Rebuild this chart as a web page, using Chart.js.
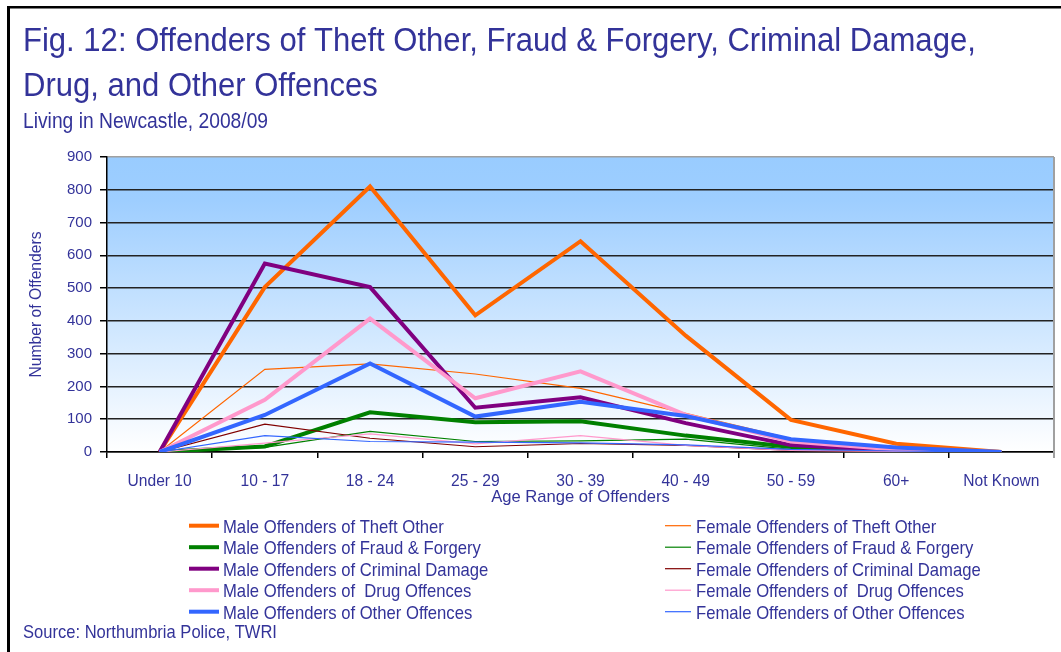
<!DOCTYPE html>
<html>
<head>
<meta charset="utf-8">
<script src="https://cdn.jsdelivr.net/npm/chart.js@4/dist/chart.umd.min.js"></script>
<style>
html,body{margin:0;padding:0;background:#fff;}
canvas{display:block;}
</style>
</head>
<body>
<canvas id="c" width="1061" height="652"></canvas>
<script>
// ---- data ----
const categories = ['Under 10','10 - 17','18 - 24','25 - 29','30 - 39','40 - 49','50 - 59','60+','Not Known'];
const yTicks = [0,100,200,300,400,500,600,700,800,900];

const maleTheftOther      = [0, 503, 810, 417, 643, 355, 98, 25, 0];
const femaleTheftOther    = [0, 252, 269, 238, 194, 118, 41, 10, 0];
const maleFraudForgery    = [0, 17, 121, 91, 94, 50, 15, 3, 0];
const femaleFraudForgery  = [0, 14, 63, 32, 34, 39, 8, 2, 0];
const maleCriminalDamage  = [0, 575, 503, 135, 167, 88, 21, 4, 0];
const femaleCriminalDamage= [0, 85, 42, 16, 26, 20, 5, 1, 0];
const maleDrug            = [0, 159, 407, 164, 246, 113, 32, 8, 0];
const femaleDrug          = [0, 27, 55, 25, 50, 20, 5, 2, 0];
const maleOther           = [0, 113, 270, 108, 153, 110, 39, 14, 0];
const femaleOther         = [0, 50, 32, 30, 28, 22, 8, 3, 0];

const seriesLabels = [
  'Male Offenders of Theft Other','Female Offenders of Theft Other',
  'Male Offenders of Fraud & Forgery','Female Offenders of Fraud & Forgery',
  'Male Offenders of Criminal Damage','Female Offenders of Criminal Damage',
  'Male Offenders of  Drug Offences','Female Offenders of  Drug Offences',
  'Male Offenders of Other Offences','Female Offenders of Other Offences'
];
const seriesData = [maleTheftOther,femaleTheftOther,maleFraudForgery,femaleFraudForgery,
  maleCriminalDamage,femaleCriminalDamage,maleDrug,femaleDrug,maleOther,femaleOther];

// ---- styles ----
const seriesColors = ['#FF6600','#FF6600','#008000','#008000','#800080','#800000','#FF99CC','#FF99CC','#3366FF','#3366FF'];
const seriesWidths = [4,1.2,4,1.2,4,1.2,4,1.2,4,1.2];

const TEXT = '#333399';
const SANS = '"Liberation Sans",Arial,sans-serif';

const datasets = seriesData.map((d,i)=>({
  label: seriesLabels[i],
  data: d,
  borderColor: seriesColors[i],
  backgroundColor: seriesColors[i],
  borderWidth: seriesWidths[i],
  pointRadius: 0,
  pointHoverRadius: 0,
  tension: 0,
  fill: false,
  borderJoinStyle: 'miter',
  order: seriesData.length - i
}));

function drawText(ctx, s, x, y, size, sx){
  ctx.save();
  ctx.font = size + 'px ' + SANS;
  ctx.fillStyle = TEXT;
  ctx.textBaseline = 'alphabetic';
  ctx.textAlign = 'left';
  ctx.translate(x, y);
  ctx.scale(sx, 1);
  ctx.fillText(s, 0, 0);
  ctx.restore();
}

const decor = {
  id: 'decor',
  beforeDraw(chart){
    const {ctx, chartArea:a} = chart;
    ctx.save();
    ctx.fillStyle = '#fff';
    ctx.fillRect(0,0,chart.width,chart.height);
    const g = ctx.createLinearGradient(0, a.top, 0, a.bottom);
    g.addColorStop(0, '#99CCFF');
    g.addColorStop(0.15, '#9ECEFF');
    g.addColorStop(1, '#FFFFFF');
    ctx.fillStyle = g;
    ctx.fillRect(a.left, a.top, a.right - a.left, a.bottom - a.top);
    ctx.restore();
  },
  afterDraw(chart){
    const {ctx, chartArea:a} = chart;
    ctx.save();
    // right plot border
    ctx.strokeStyle = '#A0A0A0';
    ctx.lineWidth = 2;
    ctx.beginPath();
    ctx.moveTo(a.right, a.top);
    ctx.lineTo(a.right, a.bottom + 6);
    ctx.stroke();
    // outer frame
    ctx.fillStyle = '#000';
    ctx.fillRect(7, 6, chart.width - 7, 2.5);
    ctx.fillRect(7, 6, 3, chart.height - 6);
    ctx.restore();

    // titles
    drawText(ctx, 'Fig. 12: Offenders of Theft Other, Fraud & Forgery, Criminal Damage,', 23, 51, 32.5, 0.955);
    drawText(ctx, 'Drug, and Other Offences', 23, 95.5, 32.5, 0.955);
    drawText(ctx, 'Living in Newcastle, 2008/09', 23, 128, 21.4, 0.9);

    // legend (two columns, filled row-wise)
    const ds = chart.data.datasets;
    ds.forEach((d,i)=>{
      const row = Math.floor(i/2), col = i%2;
      const ly = 525.7 + row*21.5;
      const x0 = col === 0 ? 189 : 665;
      const x1 = col === 0 ? 219 : 691;
      const tx = col === 0 ? 223 : 696;
      ctx.save();
      ctx.strokeStyle = d.borderColor;
      ctx.lineWidth = d.borderWidth;
      ctx.beginPath();
      ctx.moveTo(x0, ly);
      ctx.lineTo(x1, ly);
      ctx.stroke();
      ctx.restore();
      drawText(ctx, d.label, tx, ly + 6.8, 18.5, 0.9);
    });

    // source
    drawText(ctx, 'Source: Northumbria Police, TWRI', 23, 637.5, 18.5, 0.895);
  }
};

new Chart(document.getElementById('c'), {
  type: 'line',
  data: { labels: categories, datasets },
  plugins: [decor],
  options: {
    responsive: false,
    animation: false,
    devicePixelRatio: 1,
    layout: { padding: { left: 0, right: 7, top: 157, bottom: 140 } },
    plugins: { legend: { display: false }, title: { display: false }, tooltip: { enabled: false } },
    scales: {
      x: {
        type: 'category',
        offset: true,
        afterFit(s){ s.height = 60; },
        grid: { display: true, offset: true, drawOnChartArea: false, drawTicks: true, tickLength: 6, color: '#000', lineWidth: 1.5 },
        border: { display: true, color: '#000', width: 1.5 },
        ticks: { color: TEXT, font: { family: SANS, size: 15.6 }, padding: 14, maxRotation: 0, autoSkip: false },
        title: { display: true, text: 'Age Range of Offenders', color: TEXT, font: { family: SANS, size: 16.6 }, padding: { top: 0, bottom: 5 } }
      },
      y: {
        min: 0, max: 900,
        afterFit(s){ s.width = 107; },
        afterBuildTicks(s){ s.ticks = yTicks.map(v => ({ value: v })); },
        grid: {
          color: c => (c.tick && c.tick.value === 900) ? '#A0A0A0' : '#222',
          tickColor: '#000',
          lineWidth: 1.5,
          tickLength: 7
        },
        border: { display: true, color: '#000', width: 1.5 },
        ticks: { color: TEXT, font: { family: SANS, size: 15 }, padding: 8 },
        title: { display: true, text: 'Number of Offenders', color: TEXT, font: { family: SANS, size: 15.7 }, padding: { top: 27, bottom: 0 } }
      }
    }
  }
});
</script>
</body>
</html>
